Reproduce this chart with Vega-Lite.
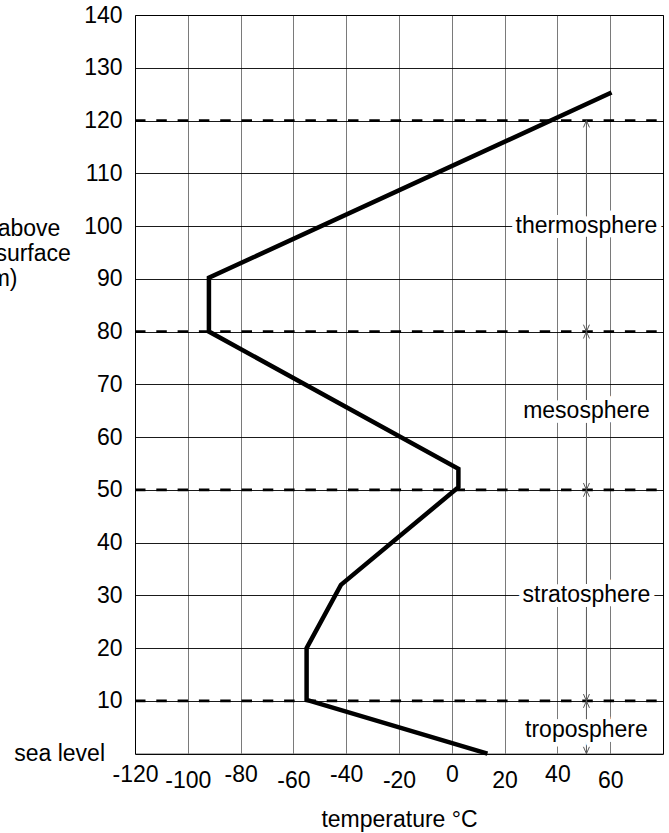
{
  "$schema": "https://vega.github.io/schema/vega-lite/v6.json",
  "width": 528,
  "height": 738.7,
  "autosize": {"type": "none"},
  "padding": {"left": 135, "top": 15, "right": 6, "bottom": 79.3},
  "background": "white",
  "config": {
    "view": {"stroke": "black", "strokeWidth": 1},
    "font": "Liberation Sans",
    "axis": {
      "labelFont": "Liberation Sans",
      "titleFont": "Liberation Sans",
      "labelFontSize": 23,
      "titleFontSize": 23,
      "titleFontWeight": "normal",
      "labelColor": "black",
      "titleColor": "black",
      "ticks": false,
      "tickSize": 0,
      "domain": false,
      "labelOverlap": false,
      "labelBound": false,
      "labelFlush": false
    }
  },
  "datasets": {
    "profile": [
      {"step": 1, "temperature": 13.5, "altitude": 0},
      {"step": 2, "temperature": -55, "altitude": 10.2},
      {"step": 3, "temperature": -55, "altitude": 20},
      {"step": 4, "temperature": -42, "altitude": 32},
      {"step": 5, "temperature": 2.5, "altitude": 50.5},
      {"step": 6, "temperature": 2.5, "altitude": 54},
      {"step": 7, "temperature": -92, "altitude": 80},
      {"step": 8, "temperature": -92, "altitude": 90.2},
      {"step": 9, "temperature": 60.5, "altitude": 125.3}
    ],
    "boundaries": [{"altitude": 10}, {"altitude": 50}, {"altitude": 80}, {"altitude": 120}],
    "layers": [
      {"name": "thermosphere", "altitude": 100},
      {"name": "mesosphere", "altitude": 65},
      {"name": "stratosphere", "altitude": 30},
      {"name": "troposphere", "altitude": 4.5}
    ],
    "upTips": [{"altitude": 10}, {"altitude": 50}, {"altitude": 80}, {"altitude": 120}],
    "downTips": [{"altitude": 0}, {"altitude": 10}, {"altitude": 50}, {"altitude": 80}],
    "sea": [{"label": "sea level", "altitude": 0}]
  },
  "resolve": {"axis": {"x": "independent", "y": "independent"}},
  "layer": [
    {
      "data": {"name": "boundaries"},
      "mark": {"type": "rule", "color": "black", "strokeWidth": 2.7, "strokeDash": [10.5, 10.8]},
      "encoding": {
        "x": {"datum": -120, "type": "quantitative", "scale": {"domain": [-120, 80], "nice": false, "zero": false}, "axis": null},
        "x2": {"datum": 80},
        "y": {"field": "altitude", "type": "quantitative", "scale": {"domain": [0, 140], "nice": false, "zero": false}, "axis": null}
      }
    },
    {
      "data": {"values": [{"from": 0, "to": 120}]},
      "mark": {"type": "rule", "color": "#555555", "strokeWidth": 1},
      "encoding": {
        "x": {"datum": 51, "type": "quantitative", "scale": {"domain": [-120, 80], "nice": false, "zero": false}, "axis": null},
        "y": {"field": "from", "type": "quantitative", "scale": {"domain": [0, 140], "nice": false, "zero": false}, "axis": null},
        "y2": {"field": "to"}
      }
    },
    {
      "data": {"name": "layers"},
      "mark": {"type": "text", "fontSize": 23, "font": "Liberation Sans", "fill": "white", "stroke": "white", "strokeWidth": 10, "strokeJoin": "round", "align": "center", "baseline": "middle"},
      "encoding": {
        "x": {"datum": 51, "type": "quantitative", "scale": {"domain": [-120, 80], "nice": false, "zero": false}, "axis": null},
        "y": {"field": "altitude", "type": "quantitative", "scale": {"domain": [0, 140], "nice": false, "zero": false}, "axis": null},
        "text": {"field": "name"}
      }
    },
    {
      "data": {"name": "layers"},
      "mark": {"type": "text", "fontSize": 23, "font": "Liberation Sans", "color": "black", "align": "center", "baseline": "middle"},
      "encoding": {
        "x": {
          "datum": 51,
          "type": "quantitative",
          "scale": {"domain": [-120, 80], "nice": false, "zero": false},
          "axis": {
            "orient": "bottom",
            "values": [-100, -60, -20, 20, 60],
            "labelExpr": "'' + datum.value",
            "grid": false,
            "labelBaseline": "alphabetic",
            "labelPadding": 33.5,
            "title": null
          }
        },
        "y": {"field": "altitude", "type": "quantitative", "scale": {"domain": [0, 140], "nice": false, "zero": false}, "axis": null},
        "text": {"field": "name"}
      }
    },
    {
      "data": {"name": "upTips"},
      "mark": {"type": "point", "shape": "M-1,2.3L0,0L1,2.3", "filled": false, "size": 36, "color": "#555555", "strokeWidth": 1, "opacity": 1},
      "encoding": {
        "x": {"datum": 51, "type": "quantitative", "scale": {"domain": [-120, 80], "nice": false, "zero": false}, "axis": null},
        "y": {"field": "altitude", "type": "quantitative", "scale": {"domain": [0, 140], "nice": false, "zero": false}, "axis": null}
      }
    },
    {
      "data": {"name": "downTips"},
      "mark": {"type": "point", "shape": "M-1,-2.3L0,0L1,-2.3", "filled": false, "size": 36, "color": "#555555", "strokeWidth": 1, "opacity": 1},
      "encoding": {
        "x": {"datum": 51, "type": "quantitative", "scale": {"domain": [-120, 80], "nice": false, "zero": false}, "axis": null},
        "y": {"field": "altitude", "type": "quantitative", "scale": {"domain": [0, 140], "nice": false, "zero": false}, "axis": null}
      }
    },
    {
      "data": {"name": "sea"},
      "mark": {"type": "text", "fontSize": 23, "font": "Liberation Sans", "color": "black", "align": "right", "baseline": "middle", "dx": -30},
      "encoding": {
        "x": {"datum": -120, "type": "quantitative", "scale": {"domain": [-120, 80], "nice": false, "zero": false}, "axis": null},
        "y": {"field": "altitude", "type": "quantitative", "scale": {"domain": [0, 140], "nice": false, "zero": false}, "axis": null},
        "text": {"field": "label"}
      }
    },
    {
      "data": {"name": "profile"},
      "mark": {"type": "line", "color": "black", "strokeWidth": 4.5, "strokeJoin": "miter", "strokeCap": "butt", "strokeMiterLimit": 10},
      "encoding": {
        "x": {
          "field": "temperature",
          "type": "quantitative",
          "scale": {"domain": [-120, 80], "nice": false, "zero": false},
          "axis": {
            "orient": "bottom",
            "values": [-120, -100, -80, -60, -40, -20, 0, 20, 40, 60],
            "labelExpr": "(datum.value + 120) % 40 === 0 ? '' + datum.value : ''",
            "grid": true,
            "gridColor": "#7a7a7a",
            "gridWidth": 1,
            "gridOpacity": {"condition": {"test": "datum.value === -120", "value": 0}, "value": 1},
            "labelBaseline": "alphabetic",
            "labelPadding": 28,
            "title": "temperature °C",
            "titleX": 264,
            "titleY": 73,
            "titleAlign": "center",
            "titleBaseline": "alphabetic"
          }
        },
        "y": {
          "field": "altitude",
          "type": "quantitative",
          "scale": {"domain": [0, 140], "nice": false, "zero": false},
          "axis": {
            "orient": "left",
            "values": [0, 10, 20, 30, 40, 50, 60, 70, 80, 90, 100, 110, 120, 130, 140],
            "labelExpr": "datum.value === 0 ? '' : datum.label",
            "labelPadding": 13,
            "labelBaseline": "middle",
            "grid": true,
            "gridColor": "black",
            "gridWidth": 0.9,
            "title": ["height above", "Earth's surface", "(km)"],
            "titleAngle": 0,
            "titleAlign": "center",
            "titleBaseline": "alphabetic",
            "titleX": -141,
            "titleY": 220,
            "titleLineHeight": 25
          }
        },
        "order": {"field": "step", "type": "quantitative"}
      }
    }
  ]
}
